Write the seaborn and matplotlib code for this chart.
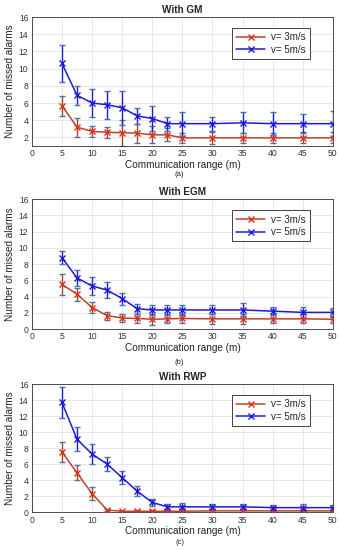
import numpy as np
import pandas as pd
import matplotlib
matplotlib.use("Agg")
import matplotlib.pyplot as plt
import seaborn as sns

x = [5, 7.5, 10, 12.5, 15, 17.5, 20, 22.5, 25, 30, 35, 40, 45, 50]

titles = ["With GM", "With EGM", "With RWP"]
sublabels = ["(a)", "(b)", "(c)"]
series_names = ["v= 3m/s", "v= 5m/s"]

gm_v3 = [5.7, 3.2, 2.7, 2.6, 2.55, 2.5, 2.3, 2.3, 1.95, 1.95, 1.95, 1.95, 1.95, 1.95]
gm_v3_err = [1.15, 1.1, 0.6, 0.65, 1.5, 1.1, 1.0, 0.75, 0.55, 0.7, 0.55, 0.55, 0.65, 0.65]
gm_v5 = [10.6, 6.9, 6.0, 5.8, 5.45, 4.5, 4.2, 3.6, 3.6, 3.6, 3.7, 3.6, 3.6, 3.6]
gm_v5_err = [2.2, 1.1, 1.6, 1.6, 1.95, 0.9, 1.5, 0.8, 1.4, 0.8, 1.2, 1.35, 1.1, 1.5]

egm_v3 = [5.5, 4.3, 2.65, 1.65, 1.35, 1.3, 1.2, 1.25, 1.3, 1.25, 1.25, 1.25, 1.25, 1.2]
egm_v3_err = [1.25, 0.8, 0.65, 0.5, 0.45, 0.55, 0.7, 0.55, 0.6, 0.65, 0.65, 0.55, 0.55, 0.4]
egm_v5 = [8.8, 6.3, 5.3, 4.8, 3.75, 2.5, 2.35, 2.35, 2.35, 2.35, 2.35, 2.2, 2.05, 2.05]
egm_v5_err = [0.8, 1.0, 1.1, 1.0, 0.75, 0.6, 0.65, 0.6, 0.65, 0.55, 0.8, 0.5, 0.65, 0.6]

rwp_v3 = [7.5, 4.9, 2.3, 0.25, 0.1, 0.1, 0.1, 0.1, 0.1, 0.15, 0.15, 0.15, 0.15, 0.15]
rwp_v3_err = [1.25, 0.95, 0.8, 0.15, 0.08, 0.1, 0.1, 0.1, 0.1, 0.1, 0.1, 0.1, 0.1, 0.1]
rwp_v5 = [13.7, 9.1, 7.25, 6.0, 4.3, 2.6, 1.2, 0.65, 0.65, 0.65, 0.65, 0.55, 0.55, 0.55]
rwp_v5_err = [1.95, 1.5, 1.3, 0.85, 0.8, 0.65, 0.4, 0.35, 0.45, 0.3, 0.3, 0.3, 0.5, 0.35]

panels = [
    (gm_v3, gm_v3_err, gm_v5, gm_v5_err),
    (egm_v3, egm_v3_err, egm_v5, egm_v5_err),
    (rwp_v3, rwp_v3_err, rwp_v5, rwp_v5_err),
]
ylims = [(1, 16), (0, 16), (0, 16)]
xticks = [0, 5, 10, 15, 20, 25, 30, 35, 40, 45, 50]

sns.set_theme(style="whitegrid")
plt.rcParams["font.family"] = ["Liberation Sans", "DejaVu Sans"]

fig = plt.figure(figsize=(3.39, 5.5), dpi=100)
boxes = [
    [0.094, 0.7345, 0.888, 0.2345],
    [0.094, 0.4018, 0.888, 0.236],
    [0.094, 0.069, 0.888, 0.2327],
]
sub_y = [1 - 175 / 550, 1 - 362 / 550, 1 - 543 / 550]

red_line = "#b8452a"
red_err = "#9a4a1e"
red_mk = "#e0301e"
blue = "#1c1cd6"
mk_colors = {red_line: red_mk, blue: blue}

for i, (v3, e3, v5, e5) in enumerate(panels):
    ax = fig.add_axes(boxes[i])
    df = pd.DataFrame({
        "range": x * 2,
        "alarms": v3 + v5,
        "speed": [series_names[0]] * len(x) + [series_names[1]] * len(x),
    })
    ax.errorbar(x, v3, yerr=e3, fmt="none", ecolor=red_err, elinewidth=1.0,
                capsize=2.5, capthick=1.0, zorder=2)
    ax.errorbar(x, v5, yerr=e5, fmt="none", ecolor=blue, elinewidth=1.0,
                capsize=2.5, capthick=1.0, zorder=2)
    sns.lineplot(data=df, x="range", y="alarms", hue="speed",
                 palette=[red_line, blue], marker="x", markersize=4,
                 markeredgewidth=1.0, linewidth=1.1, ax=ax, zorder=3,
                 legend=True)
    for ln in ax.lines:
        c = matplotlib.colors.to_hex(ln.get_color())
        ln.set_markeredgecolor(mk_colors.get(c, c))
    ax.set_xlim(0, 50)
    ax.set_ylim(*ylims[i])
    ax.set_xticks(xticks)
    ax.set_yticks(np.arange(0 if i else 2, 17, 2))
    ax.tick_params(axis="both", labelsize=6.2, direction="in", length=2,
                   pad=2.5, colors="#333333", width=0.5)
    ax.grid(True, color="#e3e3e3", linewidth=0.6)
    for s in ax.spines.values():
        s.set_color("#333333")
        s.set_linewidth(0.6)
    ax.set_xlabel("Communication range (m)", fontsize=7.2, labelpad=1, color="#222222")
    ax.set_ylabel("Number of missed alarms", fontsize=7.2, labelpad=3, color="#222222")
    ax.set_title(titles[i], fontsize=7.2, fontweight="bold", pad=3)
    h, l = ax.get_legend_handles_labels()
    for hd in h:
        c = matplotlib.colors.to_hex(hd.get_color())
        hd.set_markeredgecolor(mk_colors.get(c, c))
    leg = ax.legend(h, l, loc="upper right", bbox_to_anchor=(0.924, 0.915),
                    borderaxespad=0, fontsize=7, frameon=True, fancybox=False,
                    edgecolor="#222222", framealpha=1, handlelength=3.0,
                    borderpad=0.45, labelspacing=0.25, handletextpad=0.6)
    leg.get_frame().set_linewidth(0.6)
    fig.text(0.53, sub_y[i], sublabels[i], fontsize=5.5, ha="center", va="center")

fig.savefig("out.png", dpi=100)
